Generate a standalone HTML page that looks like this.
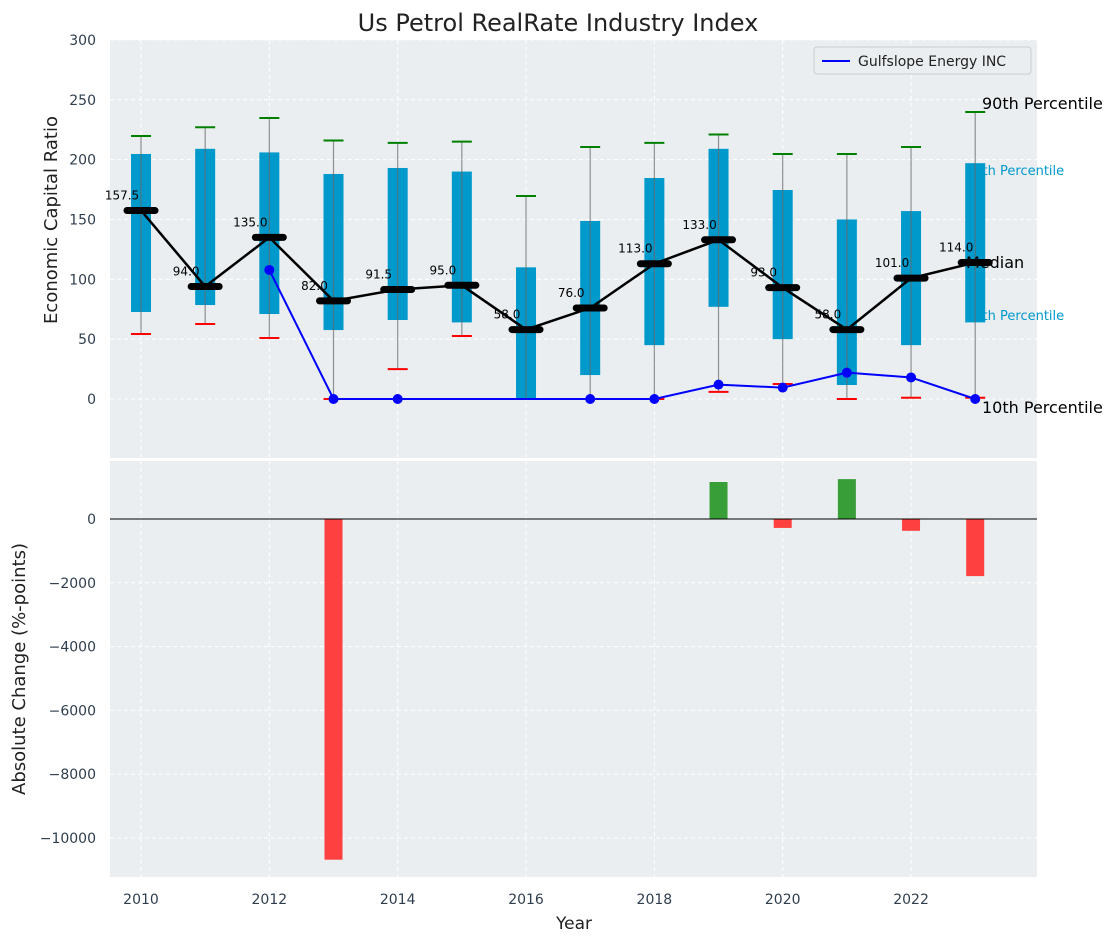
<!DOCTYPE html>
<html><head><meta charset="utf-8"><style>
body{margin:0;background:#fff}
svg{font-family:"DejaVu Sans","Liberation Sans",sans-serif;display:block}
</style></head><body>
<svg id="c" width="1117" height="942" xmlns="http://www.w3.org/2000/svg"></svg>
<script>
const years=[2010,2011,2012,2013,2014,2015,2016,2017,2018,2019,2020,2021,2022,2023];
const p10=[54.3,62.7,51,0,25,52.6,0,0,0,6,12.5,0,1,1];
const p25=[72.7,78.5,71,57.6,66,64,0,20,45,77,50,11.7,45,64];
const p75=[204.7,209,206,188,193,190,110,148.7,184.6,209,174.6,150,157,197];
const p90=[219.7,227,234.8,216,214,215,169.6,210.5,214,221,204.7,204.7,210.5,239.8];
const medians=[157.5,94,135,82,91.5,95,58,76,113,133,93,58,101,114];
const company=[null,null,107.8,0,0,null,null,0,0,12,9.5,22,18,0];
const changes=[0,0,0,-10680,0,0,0,0,0,1160,-280,1250,-370,-1790];
const topTicks=[0,50,100,150,200,250,300];
const botTicks=[0,-2000,-4000,-6000,-8000,-10000];
const xTicks=[2010,2012,2014,2016,2018,2020,2022];

const NS="http://www.w3.org/2000/svg";
const svg=document.getElementById('c');
function el(t,a,txt){const e=document.createElementNS(NS,t);for(const k in a)e.setAttribute(k,a[k]);if(txt!=null)e.textContent=txt;svg.appendChild(e);return e;}
const L=110,R=1037;
const X=y=>141+(y-2010)*64.17;
const YT=v=>399-1.197*v;
const YB=v=>519-0.0319*v;

let e=el('rect',{x:L,y:40,width:R-L,height:418,fill:'#eaeef0'});

e=el('rect',{x:L,y:461,width:R-L,height:416,fill:'#eaeef0'});


xTicks.forEach(t=>{
 el('line',{x1:X(t),x2:X(t),y1:40,y2:458,stroke:'#fff','stroke-dasharray':'4,3','stroke-width':1});
 el('line',{x1:X(t),x2:X(t),y1:461,y2:877,stroke:'#fff','stroke-dasharray':'4,3','stroke-width':1});
 e=el('text',{x:X(t),y:904,'text-anchor':'middle','font-size':14,fill:'#2f3e4e'},t);
 
});
topTicks.forEach(t=>{
 el('line',{x1:L,x2:R,y1:YT(t),y2:YT(t),stroke:'#fff','stroke-dasharray':'4,3'});
 e=el('text',{x:96,y:YT(t)+5,'text-anchor':'end','font-size':14,fill:'#2f3e4e'},t);
 
});
botTicks.forEach(t=>{
 el('line',{x1:L,x2:R,y1:YB(t),y2:YB(t),stroke:'#fff','stroke-dasharray':'4,3'});
 e=el('text',{x:96,y:YB(t)+5,'text-anchor':'end','font-size':14,fill:'#2f3e4e'},(t<0?'\u2212'+(-t):t));
 
});

e=el('text',{x:966,y:175,'font-size':13,fill:'#0099cc'},'75th Percentile');

e=el('text',{x:966,y:320,'font-size':13,fill:'#0099cc'},'25th Percentile');


years.forEach((y,i)=>{
 const x=X(y);
 e=el('rect',{x:x-10,y:YT(p75[i]),width:20,height:YT(p25[i])-YT(p75[i]),fill:'#0099cc'});
 
 e=el('line',{x1:x,x2:x,y1:YT(p10[i]),y2:YT(p90[i]),stroke:'#666','stroke-opacity':0.7,'stroke-width':1.2});
 
 e=el('line',{x1:x-10,x2:x+10,y1:YT(p90[i]),y2:YT(p90[i]),stroke:'#008000','stroke-width':2});
 
 e=el('line',{x1:x-10,x2:x+10,y1:YT(p10[i]),y2:YT(p10[i]),stroke:'#ff0000','stroke-width':2});
 
});
let pts=[];company.forEach((v,i)=>{if(v!=null)pts.push(X(years[i])+','+YT(v));});
e=el('polyline',{points:pts.join(' '),fill:'none',stroke:'#0000ff','stroke-width':2});

company.forEach((v,i)=>{if(v==null)return;
 const m=el('circle',{cx:X(years[i]),cy:YT(v),r:5,fill:'#0000ff'});
 
 
});
e=el('polyline',{points:years.map((y,i)=>X(y)+','+YT(medians[i])).join(' '),fill:'none',stroke:'#000','stroke-width':2.5});

years.forEach((y,i)=>{
 const x=X(y),yy=YT(medians[i]);
 const m=el('line',{x1:x-14,x2:x+14,y1:yy,y2:yy,stroke:'#000','stroke-width':7,'stroke-linecap':'round'});
 
 
 const t=el('text',{x:x-19,y:yy-11,'text-anchor':'middle','font-size':12,fill:'#000'},medians[i].toFixed(1));
 
 
});
e=el('text',{x:982,y:109,'font-size':16,fill:'#000'},'90th Percentile');

e=el('text',{x:966,y:268,'font-size':16,fill:'#000'},'Median');

e=el('text',{x:982,y:413,'font-size':16,fill:'#000'},'10th Percentile');


e=el('rect',{x:814,y:47,width:217,height:27,rx:3,fill:'#eaeef0',stroke:'#ccc'});

el('line',{x1:822,x2:850,y1:61,y2:61,stroke:'#0000ff','stroke-width':2});
e=el('text',{x:858,y:66,'font-size':14,fill:'#222'},'Gulfslope Energy INC');


changes.forEach((v,i)=>{if(v===0)return;
 const x=X(years[i]);
 const b=el('rect',{x:x-9,y:Math.min(YB(v),YB(0)),width:18,height:Math.abs(YB(v)-YB(0)),fill:v>0?'#389e38':'#ff4040'});
 
 
});
el('line',{x1:L,x2:R,y1:YB(0),y2:YB(0),stroke:'#000','stroke-width':1});

e=el('text',{x:558,y:31,'text-anchor':'middle','font-size':24,fill:'#222'},'Us Petrol RealRate Industry Index');

e=el('text',{x:574,y:929,'text-anchor':'middle','font-size':17,fill:'#222'},'Year');

e=el('text',{x:0,y:0,'text-anchor':'middle','font-size':18,fill:'#222',transform:'translate(57,220) rotate(-90)'},'Economic Capital Ratio');

e=el('text',{x:0,y:0,'text-anchor':'middle','font-size':18,fill:'#222',transform:'translate(25,669) rotate(-90)'},'Absolute Change (%-points)');

</script>
</body></html>
